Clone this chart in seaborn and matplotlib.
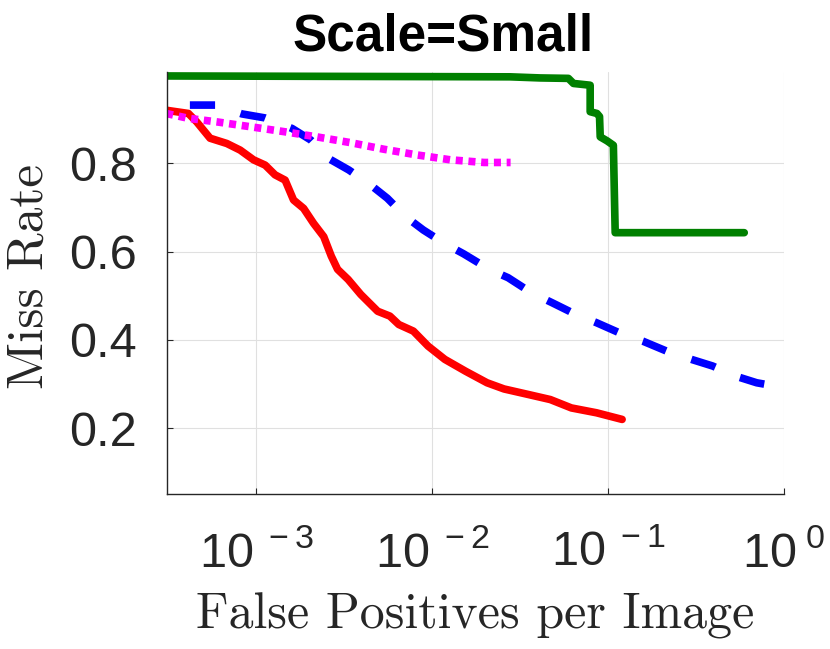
import numpy as np
import pandas as pd
import matplotlib.pyplot as plt
import seaborn as sns
from matplotlib.ticker import NullLocator

# curves (fppi, miss rate)
green_fppi = [3.0e-4, 0.0277, 0.0411, 0.0594, 0.0635, 0.079, 0.079, 0.0863,
              0.0893, 0.0901, 0.0985, 0.107, 0.1096, 0.593]
green_miss = [0.998, 0.996, 0.9935, 0.9925, 0.981, 0.977, 0.917, 0.913,
              0.906, 0.860, 0.851, 0.841, 0.643, 0.643]

red_fppi = [3.0e-4, 4.12e-4, 4.59e-4, 5.47e-4, 6.81e-4, 8.11e-4, 9.66e-4,
            1.125e-3, 1.28e-3, 1.46e-3, 1.63e-3, 1.86e-3, 2.12e-3, 2.42e-3,
            2.67e-3, 2.90e-3, 3.33e-3, 3.93e-3, 4.90e-3, 5.75e-3, 6.46e-3,
            7.82e-3, 9.48e-3, 0.0118, 0.0155, 0.0205, 0.0256, 0.0356,
            0.0469, 0.0618, 0.0859, 0.120]
red_miss = [0.921, 0.913, 0.894, 0.857, 0.845, 0.830, 0.808, 0.796, 0.774,
            0.762, 0.717, 0.698, 0.664, 0.634, 0.590, 0.560, 0.537, 0.503,
            0.465, 0.454, 0.435, 0.420, 0.386, 0.356, 0.329, 0.303, 0.289,
            0.276, 0.265, 0.246, 0.235, 0.220]

blue_fppi = [4.2e-4, 5.85e-4, 8.3e-4, 1.12e-3, 1.6e-3, 2.04e-3, 2.58e-3,
             3.36e-3, 4.47e-3, 5.56e-3, 7.08e-3, 8.91e-3, 0.0117, 0.0151,
             0.0211, 0.0270, 0.0366, 0.0482, 0.0653, 0.0859, 0.116, 0.158,
             0.214, 0.297, 0.392, 0.530, 0.698, 1.0]
blue_miss = [0.932, 0.932, 0.912, 0.903, 0.879, 0.853, 0.811, 0.785, 0.751,
             0.721, 0.679, 0.649, 0.619, 0.595, 0.560, 0.541, 0.507, 0.484,
             0.458, 0.439, 0.416, 0.397, 0.375, 0.356, 0.341, 0.318, 0.303,
             0.292]

magenta_fppi = [3.08e-4, 4.12e-4, 5.97e-4, 9.25e-4, 1.43e-3, 2.21e-3,
                3.43e-3, 5.31e-3, 8.22e-3, 0.0127, 0.0197, 0.0279]
magenta_miss = [0.913, 0.902, 0.894, 0.883, 0.872, 0.860, 0.847, 0.832,
                0.819, 0.808, 0.802, 0.802]

methods = ['green', 'red', 'blue', 'magenta']
colors = {'green': '#008000', 'red': '#ff0000', 'blue': '#0000ff',
          'magenta': '#ff00ff'}
dashes = {'green': '', 'red': '', 'blue': (3.3, 3.5), 'magenta': (0.92, 0.75)}

xticks = [1e-3, 1e-2, 1e-1, 1]
xtick_labels = [r'$10^{\ -3}$', r'$10^{\ -2}$', r'$10^{\ -1}$', r'$10^{\ 0}$']
yticks = [0.2, 0.4, 0.6, 0.8]

df = pd.concat([
    pd.DataFrame({'fppi': green_fppi, 'miss': green_miss, 'method': 'green'}),
    pd.DataFrame({'fppi': red_fppi, 'miss': red_miss, 'method': 'red'}),
    pd.DataFrame({'fppi': blue_fppi, 'miss': blue_miss, 'method': 'blue'}),
    pd.DataFrame({'fppi': magenta_fppi, 'miss': magenta_miss, 'method': 'magenta'}),
], ignore_index=True)

sns.set_style('white')
plt.rcParams['font.family'] = ['Liberation Sans', 'DejaVu Sans']
plt.rcParams['mathtext.fontset'] = 'custom'
plt.rcParams['mathtext.rm'] = 'Liberation Sans'
plt.rcParams['mathtext.it'] = 'Liberation Sans:italic'
plt.rcParams['mathtext.bf'] = 'Liberation Sans:bold'

fig = plt.figure(figsize=(8.3, 6.49), dpi=100)
ax = fig.add_axes([0.2011, 0.2381, 0.7437, 0.651])
ax.set_xscale('log')

sns.lineplot(data=df, x='fppi', y='miss', hue='method', style='method',
             hue_order=methods, style_order=methods, palette=colors,
             dashes=dashes, sort=False, estimator=None, linewidth=5.5,
             legend=False, ax=ax)

ax.set_xlim(3.11e-4, 1)
ax.set_ylim(0.05, 1.007)
ax.set_xticks(xticks)
ax.set_xticklabels(xtick_labels)
ax.xaxis.set_minor_locator(NullLocator())
ax.set_yticks(yticks)
ax.set_yticklabels([f'{v:.1f}' for v in yticks])

ax.grid(True, color='#e0e0e0', lw=0.8)
ax.set_axisbelow(True)
for s in ['top', 'right']:
    ax.spines[s].set_visible(False)
for s in ['left', 'bottom']:
    ax.spines[s].set_color('#262626')
    ax.spines[s].set_linewidth(1.0)
ax.tick_params(direction='in', length=4.5, width=0.8, color='#262626',
               labelcolor='#262626', labelsize=35, bottom=True, left=True)
ax.tick_params(axis='y', pad=21.5)
ax.tick_params(axis='x', pad=26)

ax.set_title('Scale=Small', fontsize=37, fontweight='bold', x=0.448,
             y=1.052, pad=0, color='black')
ax.set_xlabel('False Positives per Image', fontfamily='cmr10', fontsize=36,
              color='#262626')
ax.set_ylabel('Miss Rate', fontfamily='cmr10', fontsize=37, color='#262626')
ax.xaxis.set_label_coords(0.5, -0.232)
ax.yaxis.set_label_coords(-0.185, 0.515)

fig.savefig('out.png', dpi=100)
